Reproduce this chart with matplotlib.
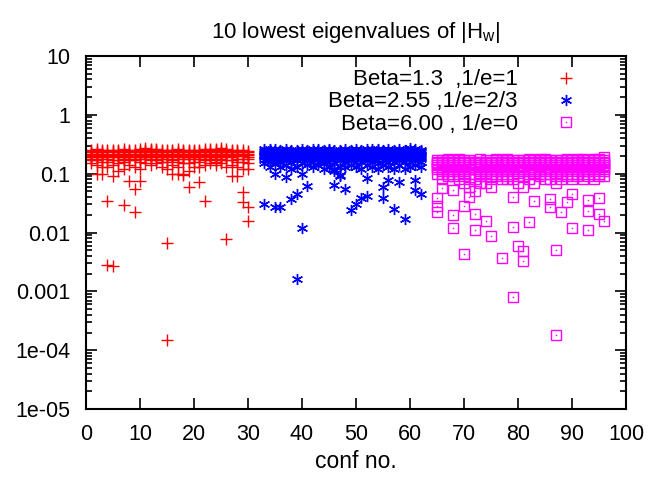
import numpy as np
import matplotlib.pyplot as plt
from matplotlib.ticker import FixedLocator, FixedFormatter, LogLocator, NullFormatter

plt.rcParams['font.family'] = ['Liberation Sans', 'DejaVu Sans']

# 10 lowest eigenvalues per configuration
red_conf = list(range(1, 31))
red_eig = [
    [.15, .17, .18, .19, .20, .21, .22, .23, .24, .25],
    [.10, .14, .17, .19, .20, .21, .22, .23, .24, .26],
    [.10, .13, .16, .18, .19, .21, .22, .23, .24, .25],
    [.0028, .035, .13, .16, .18, .20, .21, .22, .24, .25],
    [.0027, .09, .14, .17, .19, .20, .21, .23, .24, .25],
    [.11, .15, .17, .19, .20, .21, .22, .23, .24, .25],
    [.029, .12, .16, .18, .19, .20, .22, .23, .24, .26],
    [.074, .14, .17, .18, .19, .21, .22, .23, .24, .25],
    [.022, .054, .13, .17, .19, .20, .21, .22, .24, .25],
    [.074, .12, .16, .18, .19, .21, .22, .23, .24, .26],
    [.15, .18, .19, .20, .21, .22, .23, .24, .25, .27],
    [.14, .17, .19, .20, .21, .22, .23, .24, .25, .26],
    [.15, .17, .18, .20, .21, .22, .23, .24, .25, .26],
    [.13, .16, .18, .19, .20, .21, .22, .23, .24, .25],
    [.00015, .0066, .12, .16, .18, .20, .21, .22, .24, .25],
    [.10, .14, .17, .19, .20, .21, .22, .23, .24, .25],
    [.10, .13, .16, .18, .20, .21, .22, .23, .24, .26],
    [.095, .10, .15, .18, .19, .20, .22, .23, .24, .25],
    [.06, .11, .15, .18, .19, .21, .22, .23, .24, .25],
    [.13, .16, .18, .19, .20, .21, .22, .23, .24, .25],
    [.073, .13, .16, .18, .19, .20, .22, .23, .24, .25],
    [.035, .14, .17, .19, .20, .21, .22, .23, .24, .26],
    [.15, .17, .18, .19, .20, .21, .22, .23, .25, .26],
    [.14, .16, .18, .19, .20, .21, .22, .24, .25, .26],
    [.15, .17, .18, .20, .21, .22, .23, .24, .25, .27],
    [.0079, .13, .17, .19, .20, .21, .22, .23, .24, .26],
    [.09, .14, .17, .19, .20, .21, .22, .23, .24, .25],
    [.09, .13, .16, .18, .20, .21, .22, .23, .24, .25],
    [.033, .048, .12, .16, .18, .20, .21, .22, .23, .25],
    [.016, .027, .12, .15, .18, .19, .21, .22, .23, .24],
]

blue_conf = list(range(33, 63))
blue_eig = [
    [.030, .15, .17, .19, .20, .21, .22, .23, .24, .26],
    [.13, .16, .18, .19, .20, .21, .22, .23, .25, .26],
    [.027, .10, .15, .18, .19, .21, .22, .23, .24, .26],
    [.027, .13, .16, .18, .20, .21, .22, .23, .24, .25],
    [.088, .14, .17, .19, .20, .21, .22, .23, .24, .26],
    [.037, .12, .16, .18, .19, .20, .22, .23, .24, .25],
    [.0016, .045, .13, .17, .19, .20, .21, .22, .24, .25],
    [.012, .10, .15, .18, .19, .21, .22, .23, .24, .26],
    [.061, .14, .17, .18, .20, .21, .22, .23, .24, .25],
    [.13, .16, .18, .19, .20, .21, .22, .23, .24, .26],
    [.14, .16, .18, .19, .20, .21, .22, .23, .25, .26],
    [.12, .15, .17, .19, .20, .21, .22, .23, .24, .25],
    [.13, .16, .18, .19, .20, .21, .22, .24, .25, .26],
    [.064, .11, .12, .16, .18, .20, .21, .22, .24, .25],
    [.09, .094, .13, .17, .19, .20, .21, .23, .24, .25],
    [.054, .13, .16, .18, .19, .21, .22, .23, .24, .26],
    [.024, .14, .17, .19, .20, .21, .22, .23, .24, .25],
    [.030, .13, .16, .18, .19, .21, .22, .23, .24, .26],
    [.039, .12, .16, .18, .20, .21, .22, .23, .24, .25],
    [.041, .085, .14, .17, .19, .20, .22, .23, .24, .26],
    [.13, .16, .18, .19, .20, .21, .22, .23, .24, .26],
    [.12, .15, .17, .19, .20, .21, .22, .23, .25, .26],
    [.038, .06, .14, .17, .19, .20, .21, .22, .24, .25],
    [.077, .13, .16, .18, .19, .20, .22, .23, .24, .26],
    [.025, .12, .16, .18, .19, .21, .22, .23, .24, .25],
    [.073, .14, .17, .19, .20, .21, .22, .23, .24, .26],
    [.017, .12, .16, .18, .19, .20, .22, .23, .24, .25],
    [.13, .16, .18, .19, .20, .21, .22, .23, .25, .27],
    [.053, .077, .14, .17, .19, .20, .21, .23, .24, .26],
    [.045, .13, .16, .18, .19, .20, .22, .23, .24, .25],
]

mag_conf = list(range(65, 97))
mag_eig = [
    [.022, .028, .038, .10, .12, .13, .14, .15, .16, .17],
    [.058, .08, .10, .11, .12, .13, .14, .15, .16, .17],
    [.09, .10, .11, .12, .13, .14, .15, .16, .17, .18],
    [.012, .020, .053, .09, .11, .12, .13, .14, .15, .17],
    [.08, .10, .11, .12, .13, .14, .15, .16, .17, .18],
    [.0043, .028, .07, .09, .11, .12, .13, .14, .16, .17],
    [.04, .06, .08, .10, .12, .13, .14, .15, .16, .17],
    [.011, .021, .05, .08, .10, .12, .13, .14, .15, .16],
    [.07, .09, .10, .11, .12, .13, .14, .15, .16, .18],
    [.016, .07, .09, .11, .12, .13, .14, .15, .16, .17],
    [.0088, .06, .08, .10, .11, .12, .13, .14, .15, .16],
    [.09, .10, .11, .12, .13, .14, .15, .16, .17, .18],
    [.0037, .08, .10, .11, .12, .13, .14, .15, .16, .17],
    [.08, .09, .11, .12, .13, .14, .15, .16, .17, .18],
    [.0008, .0125, .04, .08, .10, .12, .13, .14, .15, .17],
    [.0058, .07, .09, .11, .12, .13, .14, .15, .16, .17],
    [.0033, .0048, .06, .09, .11, .12, .13, .14, .15, .17],
    [.015, .08, .10, .11, .12, .13, .14, .15, .16, .18],
    [.035, .07, .10, .11, .12, .13, .14, .15, .16, .17],
    [.09, .10, .11, .12, .13, .14, .15, .16, .17, .18],
    [.08, .10, .11, .12, .13, .14, .15, .16, .17, .18],
    [.027, .037, .08, .10, .12, .13, .14, .15, .16, .17],
    [.00018, .0051, .07, .09, .11, .12, .13, .14, .15, .17],
    [.022, .08, .10, .11, .12, .13, .14, .15, .16, .17],
    [.033, .09, .10, .11, .12, .13, .14, .15, .16, .18],
    [.012, .045, .08, .10, .12, .13, .14, .15, .16, .17],
    [.09, .10, .11, .12, .13, .14, .15, .16, .17, .18],
    [.08, .10, .11, .12, .13, .14, .15, .16, .17, .18],
    [.011, .023, .036, .09, .11, .12, .13, .14, .15, .17],
    [.08, .10, .11, .12, .13, .14, .15, .16, .17, .18],
    [.021, .039, .09, .10, .12, .13, .14, .15, .16, .18],
    [.016, .09, .11, .12, .13, .14, .15, .16, .17, .19],
]

labels = ['Beta=1.3  ,1/e=1', 'Beta=2.55 ,1/e=2/3', 'Beta=6.00 , 1/e=0']
yticks = [1e-5, 1e-4, 1e-3, 1e-2, 1e-1, 1, 10]
ytick_labels = ['1e-05', '1e-04', '0.001', '0.01', '0.1', '1', '10']


def flat(conf, eig):
    x = np.repeat(conf, [len(e) for e in eig])
    y = np.concatenate(eig)
    return x, y


fig = plt.figure(figsize=(6.71, 4.78), dpi=100)
ax = fig.add_axes([0.128, 0.144, 0.805, 0.739])

x, y = flat(red_conf, red_eig)
h1, = ax.plot(x, y, ls='none', marker='+', ms=8, mew=1.0, color='#ff0000')
x, y = flat(blue_conf, blue_eig)
h2, = ax.plot(x, y, ls='none', marker=(6, 2, 0), ms=8, mew=1.0, color='#0000ff')
x, y = flat(mag_conf, mag_eig)
h3, = ax.plot(x, y, ls='none', marker='s', ms=7, mew=1.0, mfc='none', mec='#ff00ff')
h3d, = ax.plot(x, y, ls='none', marker='s', ms=1, mew=0, color='#ff00ff')

ax.set_yscale('log')
ax.set_xlim(0, 100)
ax.set_ylim(1e-5, 10)
ax.set_xticks(range(0, 101, 10))
ax.yaxis.set_major_locator(FixedLocator(yticks))
ax.yaxis.set_major_formatter(FixedFormatter(ytick_labels))
ax.yaxis.set_minor_locator(LogLocator(base=10, subs=np.arange(2, 10)))
ax.yaxis.set_minor_formatter(NullFormatter())
ax.tick_params(which='both', direction='in', top=True, right=True, labelsize=15.5, width=1.2)
ax.tick_params(which='major', length=8, pad=11)
ax.tick_params(axis='x', which='major', pad=11)
ax.tick_params(which='minor', length=4)
for s in ax.spines.values():
    s.set_linewidth(1.5)

ax.set_title(r'10 lowest eigenvalues of |H$_\mathregular{w}$|', fontsize=16, pad=13)
ax.set_xlabel('conf no.', fontsize=16.5, labelpad=3)

ax.legend([h1, h2, (h3, h3d)], labels, loc='upper right', markerfirst=False, frameon=False,
          fontsize=16, handlelength=1.0, labelspacing=0.05, borderaxespad=0, borderpad=0,
          bbox_to_anchor=(0.909, 0.962), handletextpad=1.66)

fig.savefig('out.png', dpi=100)
